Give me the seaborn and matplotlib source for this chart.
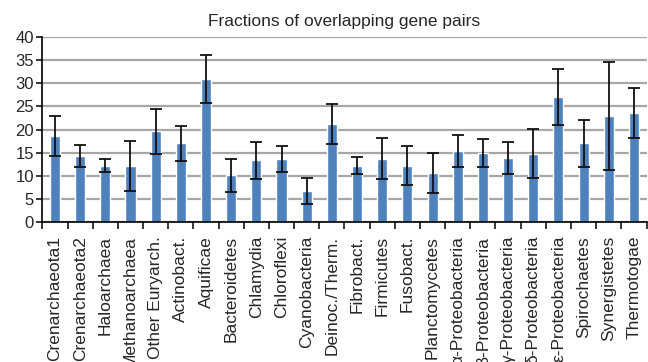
import matplotlib
matplotlib.use("Agg")
import matplotlib.pyplot as plt
import seaborn as sns
import numpy as np
import pandas as pd
from matplotlib.ticker import FixedLocator

categories = ["Crenarchaeota1", "Crenarchaeota2", "Haloarchaea", "Methanoarchaea",
              "Other Euryarch.", "Actinobact.", "Aquificae", "Bacteroidetes",
              "Chlamydia", "Chloroflexi", "Cyanobacteria", "Deinoc./Therm.",
              "Fibrobact.", "Firmicutes", "Fusobact.", "Planctomycetes",
              "α-Proteobacteria", "β-Proteobacteria", "γ-Proteobacteria",
              "δ-Proteobacteria", "ε-Proteobacteria", "Spirochaetes",
              "Synergistetes", "Thermotogae"]
values = [18.6, 14.3, 12.2, 12.1, 19.6, 17.0, 30.9, 10.1, 13.4, 13.6, 6.7, 21.2,
          12.2, 13.7, 12.2, 10.6, 15.3, 15.0, 13.9, 14.8, 27.0, 17.0, 22.9, 23.5]
errors = [4.4, 2.4, 1.45, 5.4, 4.8, 3.85, 5.2, 3.6, 4.0, 2.85, 2.8, 4.4,
          1.85, 4.45, 4.2, 4.3, 3.5, 3.05, 3.45, 5.35, 6.05, 5.05, 11.7, 5.4]
title = "Fractions of overlapping gene pairs"
yticks = [0, 5, 10, 15, 20, 25, 30, 35, 40]

sns.set_style("white")
plt.rcParams["font.family"] = ["Liberation Sans", "DejaVu Sans"]

df = pd.DataFrame({"category": categories, "value": values, "err": errors})

fig = plt.figure(figsize=(6.48, 3.62), dpi=100)
ax = fig.add_axes([0.0654, 0.3867, 0.9323, 0.511])

sns.barplot(data=df, x="category", y="value", color="#4F81BD", width=0.4,
            saturation=1, errorbar=None, ax=ax, zorder=2)
ax.errorbar(x=np.arange(len(categories)), y=df["value"], yerr=df["err"],
            fmt="none", ecolor="#111111", elinewidth=1.3, capsize=4,
            capthick=1.3, zorder=3)

ax.set_xlim(-0.5, len(categories) - 0.5)
ax.set_ylim(0, 40)
ax.set_yticks(yticks)
ax.yaxis.grid(True, color="#a6a6a6", linewidth=1.6, zorder=0)
ax.set_axisbelow(True)
ax.set_xlabel("")
ax.set_ylabel("")
ax.set_title(title, fontsize=12.5, pad=8)

for s in ["top", "right"]:
    ax.spines[s].set_visible(False)
for s in ["left", "bottom"]:
    ax.spines[s].set_color("black")
    ax.spines[s].set_linewidth(1.2)

ax.xaxis.set_minor_locator(FixedLocator(np.arange(-0.5, len(categories), 1.0)))
ax.tick_params(axis="x", which="major", length=0, pad=10, labelsize=12.5,
               labelrotation=90)
ax.tick_params(axis="x", which="minor", length=5, width=1.1, direction="out",
               color="black", bottom=True)
ax.tick_params(axis="y", which="major", length=4, width=1.1, direction="out",
               color="black", left=True, labelsize=12, pad=2)
for lab in ax.get_xticklabels():
    lab.set_verticalalignment("top")
    lab.set_horizontalalignment("center")

fig.savefig("out.png", dpi=100)
